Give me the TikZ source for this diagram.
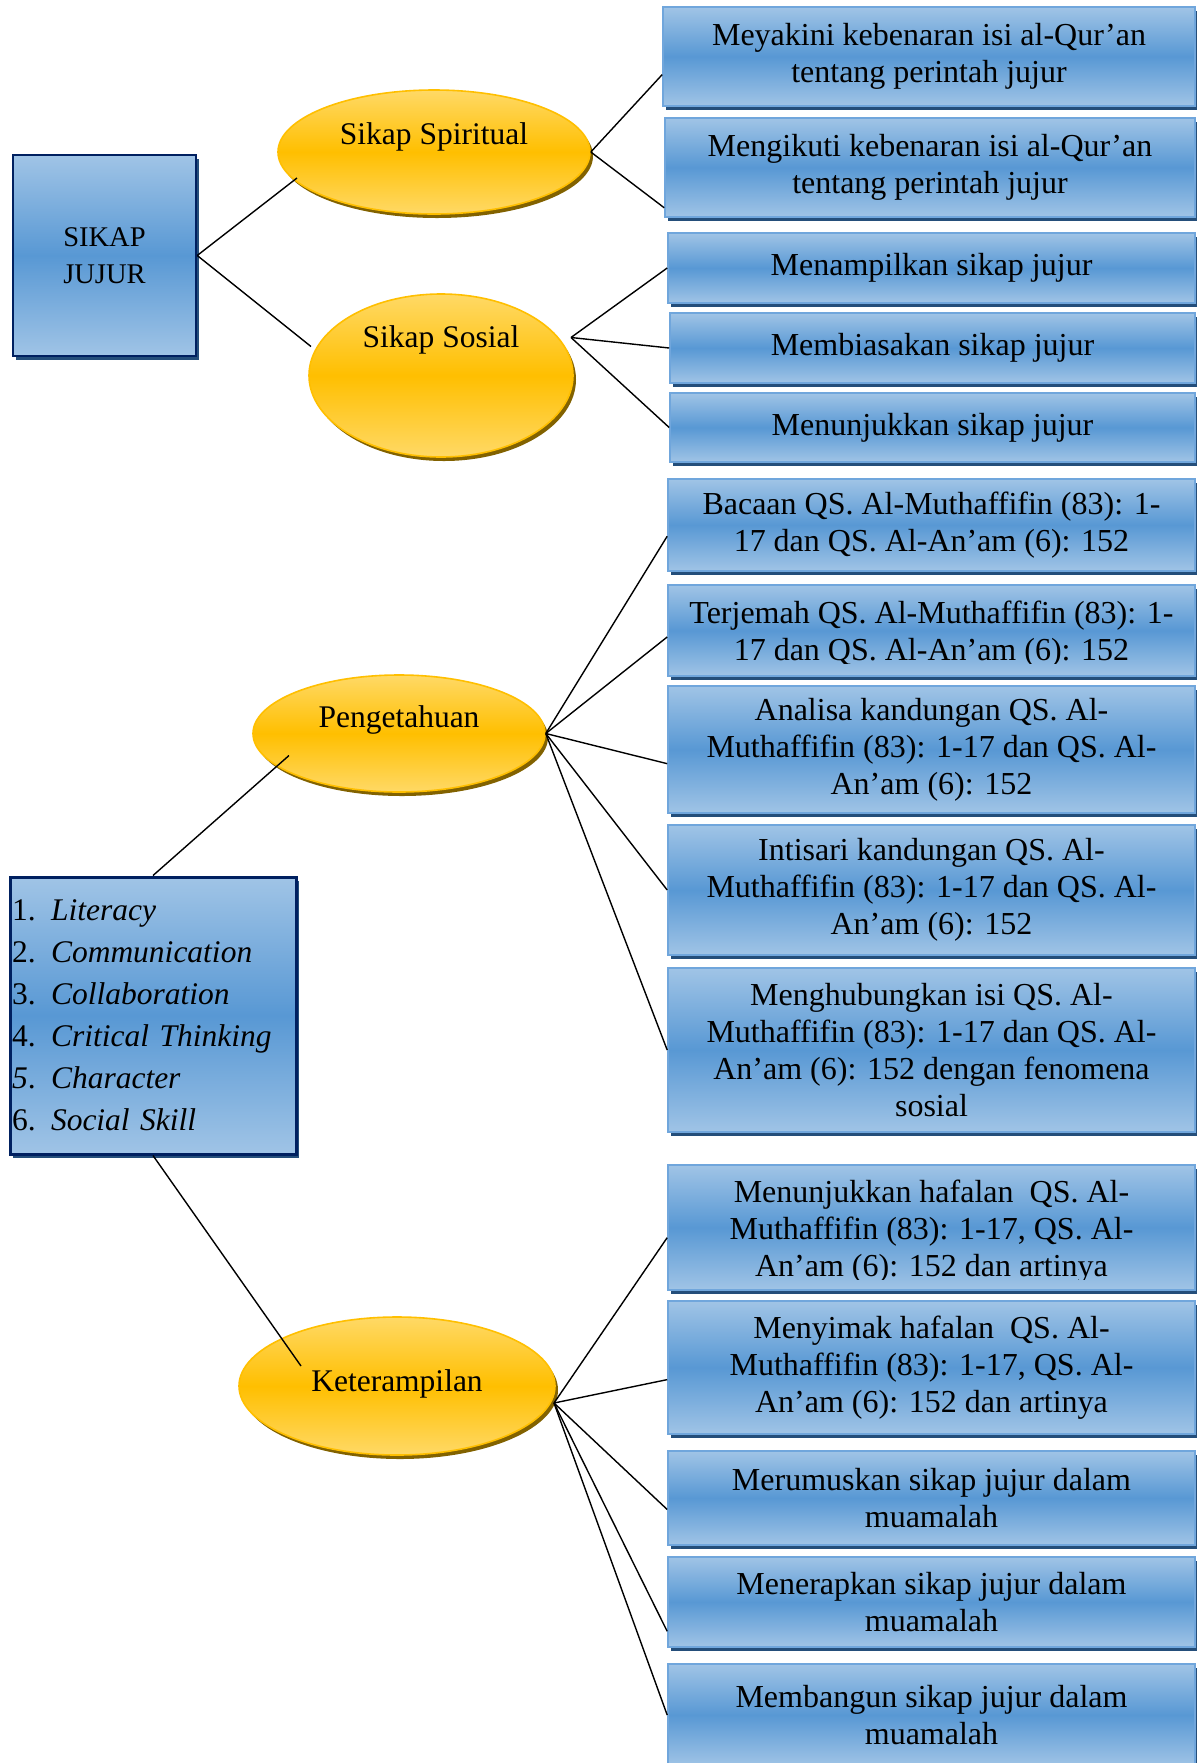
\documentclass[tikz,border=0pt]{standalone}
\usepackage{fontspec}
\setmainfont{Liberation Serif}
\usetikzlibrary{shapes,calc,shadows}
\definecolor{boxlight}{RGB}{160,196,230}
\definecolor{boxmid}{RGB}{88,152,212}
\definecolor{boxedge}{RGB}{112,166,220}
\definecolor{boxshade}{RGB}{36,78,122}
\definecolor{navy}{RGB}{0,32,96}
\definecolor{goldlight}{RGB}{255,217,102}
\definecolor{goldmid}{RGB}{255,191,0}
\definecolor{goldshade}{RGB}{130,98,0}
\tikzset{
	goal/.style     = {draw=boxedge, line width=0.8pt, top color=boxlight,
		bottom color=boxlight, middle color=boxmid, inner sep=0pt, align=center,
		font=\fontsize{16}{18.5}\selectfont,
		drop shadow={shadow xshift=1.5pt, shadow yshift=-2pt, fill=boxshade, opacity=1}},
	cuttext/.style 2 args = {path picture={
		\clip ([yshift=#1]path picture bounding box.south west) rectangle (path picture bounding box.north east);
		\node[align=center, inner sep=0pt, font=\fontsize{16}{18.5}\selectfont]
			at ([yshift=-2pt]path picture bounding box.center) {#2};}},
	oval/.style     = {ellipse, draw=goldmid, line width=0.8pt, top color=goldlight,
		bottom color=goldlight, middle color=goldmid, inner sep=0pt,
		drop shadow={shadow xshift=1.5pt, shadow yshift=-2pt, fill=goldshade, opacity=1}},
	ovaltext/.style = {font=\fontsize{15.75}{19}\selectfont, inner sep=0pt},
	root/.style     = {draw=navy, line width=1.2pt, top color=boxlight,
		bottom color=boxlight, middle color=boxmid, align=center,
		drop shadow={shadow xshift=1.5pt, shadow yshift=-2pt, fill=boxshade, opacity=1}},
	link/.style     = {line width=0.7pt} % Connector
}
\newcommand{\skill}[2]{\makebox[19.5pt][l]{#1.}\textit{#2}}

\begin{document}
\begin{tikzpicture}[x=0.5pt, y=-0.5pt]
	\useasboundingbox (0,0) rectangle (1196,1763);
	
	% centre
	\node[root, minimum width=91.5pt, minimum height=100.5pt,
		font=\fontsize{14.25}{18.5}\selectfont] (jj) at (104.5,255.5) {SIKAP\\JUJUR};
	\node[root, line width=1.5pt, minimum width=143pt, minimum height=138.5pt,
		inner xsep=1pt, text width=141pt, align=left,
		font=\fontsize{15.75}{21}\selectfont] (lst) at (153,1015.5)
		{\skill{1}{Literacy}\\ \skill{2}{Communication}\\ \skill{3}{Collaboration}\\
		 \skill{4}{Critical Thinking}\\ \skill{\textit{5}}{Character}\\ \skill{6}{Social Skill}};
	
	% domains
	\node[oval, minimum width=156pt, minimum height=62pt,
		label={[ovaltext, yshift=7.5pt]center:Sikap Spiritual}] (sp) at (434,152) {};
	\node[oval, minimum width=132pt, minimum height=81.5pt,
		label={[ovaltext, yshift=17.75pt]center:Sikap Sosial}] (so) at (441,375.5) {};
	\node[oval, minimum width=146pt, minimum height=58.5pt,
		label={[ovaltext, yshift=6.75pt]center:Pengetahuan}] (pe) at (399,733.5) {};
	\node[oval, minimum width=158pt, minimum height=69pt,
		label={[ovaltext, yshift=1pt]center:Keterampilan}] (kt) at (397,1386) {};
	
	% indicators
	\node[goal, minimum width=266pt, minimum height=49.5pt] (b1) at (929,56.5)
		{Meyakini kebenaran isi al-Qur’an\\tentang perintah jujur};
	\node[goal, minimum width=265pt, minimum height=49.5pt] (b2) at (930,167.5)
		{Mengikuti kebenaran isi al-Qur’an\\tentang perintah jujur};
	\node[goal, minimum width=263.5pt, minimum height=35pt] (b3) at (931.5,268)
		{Menampilkan sikap jujur};
	\node[goal, minimum width=262.5pt, minimum height=35pt] (b4) at (932.5,348)
		{Membiasakan sikap jujur};
	\node[goal, minimum width=262.5pt, minimum height=34.5pt] (b5) at (932.5,427.5)
		{Menunjukkan sikap jujur};
	\node[goal, minimum width=263.5pt, minimum height=46pt] (b6) at (931.5,525)
		{Bacaan QS. Al-Muthaffifin (83): 1-\\17 dan QS. Al-An’am (6): 152};
	\node[goal, minimum width=263.5pt, minimum height=45.5pt,
		cuttext={6.5pt}{Terjemah QS. Al-Muthaffifin (83): 1-\\17 dan QS. Al-An’am (6): 152}]
		(b7) at (931.5,630.5) {};
	\node[goal, minimum width=263.5pt, minimum height=63.5pt] (b8) at (931.5,749.5)
		{Analisa kandungan QS. Al-\\Muthaffifin (83): 1-17 dan QS. Al-\\An’am (6): 152};
	\node[goal, minimum width=263.5pt, minimum height=65pt] (b9) at (931.5,890)
		{Intisari kandungan QS. Al-\\Muthaffifin (83): 1-17 dan QS. Al-\\An’am (6): 152};
	\node[goal, minimum width=263.5pt, minimum height=82pt] (b10) at (931.5,1050)
		{Menghubungkan isi QS. Al-\\Muthaffifin (83): 1-17 dan QS. Al-\\An’am (6): 152 dengan fenomena\\sosial};
	\node[goal, minimum width=263.5pt, minimum height=62.5pt,
		cuttext={5.5pt}{Menunjukkan hafalan~ QS. Al-\\Muthaffifin (83): 1-17, QS. Al-\\An’am (6): 152 dan artinya}]
		(b11) at (931.5,1227.5) {};
	\node[goal, minimum width=263.5pt, minimum height=66.5pt] (b12) at (931.5,1367.5)
		{Menyimak hafalan~ QS. Al-\\Muthaffifin (83): 1-17, QS. Al-\\An’am (6): 152 dan artinya};
	\node[goal, minimum width=263.5pt, minimum height=47pt] (b13) at (931.5,1498)
		{Merumuskan sikap jujur dalam\\muamalah};
	\node[goal, minimum width=263.5pt, minimum height=45pt] (b14) at (931.5,1602)
		{Menerapkan sikap jujur dalam\\muamalah};
	\node[goal, minimum width=263.5pt, minimum height=51pt] (b15) at (931.5,1715)
		{Membangun sikap jujur dalam\\muamalah};
	
	% connectors
	\draw[link] (jj.east) -- ($(sp)+(-137,26)$);
	\draw[link] (jj.east) -- ($(so)+(-130,-29)$);
	\draw[link] (lst.north) -- ($(pe)+(-110,22)$);
	\draw[link] (lst.south) -- ($(kt)+(-96,-20)$);
	
	\draw[link] (sp.east) -- ($(b1.north west)!.68!(b1.south west)$);
	\draw[link] (sp.east) -- ($(b2.north west)!.9!(b2.south west)$);
	
	\draw[link] ($(so)+(130,-38)$) -- (b3.west);
	\draw[link] ($(so)+(130,-38)$) -- (b4.west);
	\draw[link] ($(so)+(130,-38)$) -- (b5.west);
	
	\draw[link] (pe.east) -- ($(b6.north west)!.62!(b6.south west)$);
	\draw[link] (pe.east) -- ($(b7.north west)!.57!(b7.south west)$);
	\draw[link] (pe.east) -- ($(b8.north west)!.61!(b8.south west)$);
	\draw[link] (pe.east) -- (b9.west);
	\draw[link] (pe.east) -- (b10.west);
	
	\draw[link] ($(kt)+(157,17)$) -- ($(b11.north west)!.58!(b11.south west)$);
	\draw[link] ($(kt)+(157,17)$) -- ($(b12.north west)!.59!(b12.south west)$);
	\draw[link] ($(kt)+(157,17)$) -- ($(b13.north west)!.62!(b13.south west)$);
	\draw[link] ($(kt)+(157,17)$) -- ($(b14.north west)!.82!(b14.south west)$);
	\draw[link] ($(kt)+(157,17)$) -- (b15.west);
	
\end{tikzpicture}
\end{document}
